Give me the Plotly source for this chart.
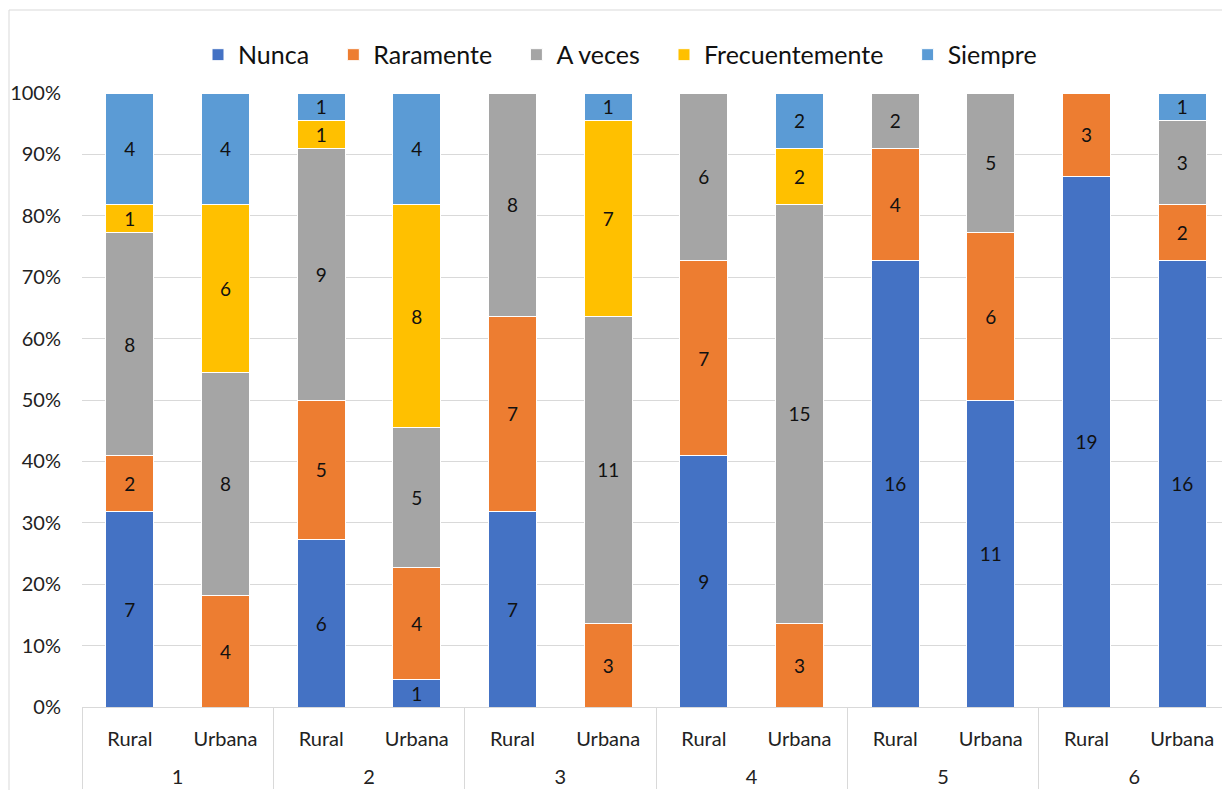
import plotly.graph_objects as go

groups = ["1", "1", "2", "2", "3", "3", "4", "4", "5", "5", "6", "6"]
zones = ["Rural", "Urbana"] * 6

nunca = [7, 0, 6, 1, 7, 0, 9, 0, 16, 11, 19, 16]
raramente = [2, 4, 5, 4, 7, 3, 7, 3, 4, 6, 3, 2]
a_veces = [8, 8, 9, 5, 8, 11, 6, 15, 2, 5, 0, 3]
frecuentemente = [1, 6, 1, 8, 0, 7, 0, 2, 0, 0, 0, 0]
siempre = [4, 4, 1, 4, 0, 1, 0, 2, 0, 0, 0, 1]

series = [
    ("Nunca", nunca, "#4472C4"),
    ("Raramente", raramente, "#ED7D31"),
    ("A veces", a_veces, "#A5A5A5"),
    ("Frecuentemente", frecuentemente, "#FFC000"),
    ("Siempre", siempre, "#5B9BD5"),
]

FONT = "Lato"
group_labels = ["<br>" + g for g in groups]
PAD = "\u00a0" * 3

fig = go.Figure()
for i, (name, vals, color) in enumerate(series):
    fig.add_trace(go.Bar(
        name=name + (PAD if i < len(series) - 1 else ""),
        x=[group_labels, zones],
        y=vals,
        marker=dict(color=color, line=dict(color="white", width=1)),
        text=[str(v) if v else "" for v in vals],
        textposition="inside",
        insidetextanchor="middle",
        textangle=0,
        textfont=dict(family=FONT, size=19, color="#111111"),
    ))

fig.update_layout(
    barmode="stack",
    barnorm="percent",
    bargap=0.5,
    width=1222,
    height=782,
    margin=dict(l=74, r=0, t=85, b=83, autoexpand=False),
    paper_bgcolor="white",
    plot_bgcolor="white",
    font=dict(family=FONT, size=20, color="#222222"),
    uniformtext=dict(minsize=19, mode="show"),
    legend=dict(
        orientation="h",
        x=(620 - 82) / 1148, xanchor="center",
        y=1.062, yanchor="middle",
        font=dict(family=FONT, size=25, color="#111111"),
        itemwidth=30,
        traceorder="normal",
    ),
    showlegend=True,
    xaxis=dict(
        type="multicategory",
        automargin=False,
        showline=True,
        linecolor="#D9D9D9",
        linewidth=1,
        showdividers=True,
        dividercolor="#D9D9D9",
        dividerwidth=1,
        tickfont=dict(family=FONT, size=20, color="#222222"),
        ticks="",
        ticklabelstandoff=14,
    ),
    yaxis=dict(
        automargin=False,
        range=[0, 100],
        dtick=10,
        ticksuffix="%",
        showgrid=True,
        gridcolor="#D9D9D9",
        gridwidth=1,
        zeroline=False,
        showline=False,
        tickfont=dict(family=FONT, size=20, color="#222222"),
        ticklabelstandoff=20,
    ),
)

fig.add_shape(
    type="rect",
    xref="paper", yref="paper",
    x0=(9 - 82) / 1148, x1=1.05,
    y0=-0.2, y1=(707 - 10) / 614,
    line=dict(color="#D9D9D9", width=1),
    fillcolor="rgba(0,0,0,0)",
    layer="below",
)

fig.write_html("out.html")
